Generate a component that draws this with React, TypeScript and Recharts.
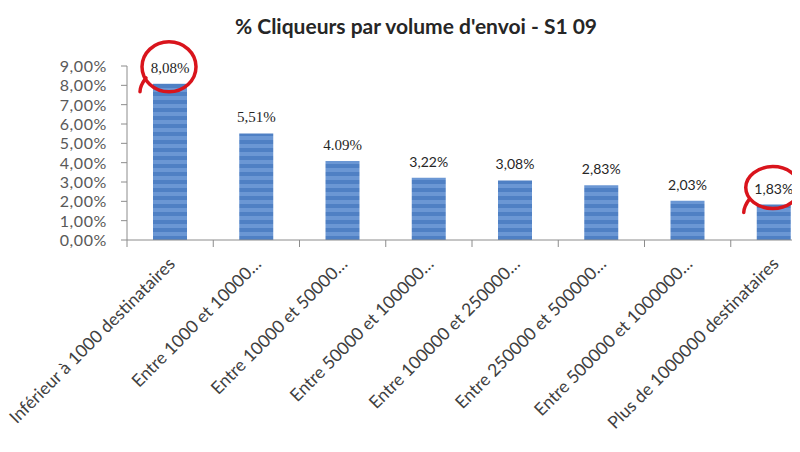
import { Bar, BarChart, LabelList, XAxis, YAxis } from 'recharts'

const categories = [
  'Inférieur à 1000 destinataires',
  'Entre 1000 et 10000…',
  'Entre 10000 et 50000…',
  'Entre 50000 et 100000…',
  'Entre 100000 et 250000…',
  'Entre 250000 et 500000…',
  'Entre 500000 et 1000000…',
  'Plus de 1000000 destinataires',
]
const clickRates = [8.08, 5.51, 4.09, 3.22, 3.08, 2.83, 2.03, 1.83]
const valueLabels = ['8,08%', '5,51%', '4.09%', '3,22%', '3,08%', '2,83%', '2,03%', '1,83%']
const circled = [true, false, false, false, false, false, false, true]
const yTicks = [0, 1, 2, 3, 4, 5, 6, 7, 8, 9]

const data = categories.map((name, i) => ({ name, rate: clickRates[i], label: valueLabels[i] }))

const CHART_W = 830
const LEFT = 127
const RIGHT = 13
const band = (CHART_W - LEFT - RIGHT) / categories.length

const fmtPct = (v: number) => `${v.toFixed(2).replace('.', ',')}%`

function XTick(props: any) {
  const { x, y, payload } = props
  const bx = x - band / 2
  return (
    <g>
      <line x1={bx} x2={bx} y1={y - 8} y2={y - 1} stroke="#8c8c8c" />
      <text
        x={x + 6}
        y={y + 17}
        textAnchor="end"
        fontSize={17.5}
        fill="#404040"
        fontFamily="Lato, sans-serif"
        transform={`rotate(-45 ${x + 6} ${y + 17})`}
      >
        {payload.value}
      </text>
    </g>
  )
}

function YTick(props: any) {
  const { x, y, payload } = props
  return (
    <text
      x={x}
      y={y + 6}
      textAnchor="end"
      fontSize={16}
      letterSpacing={0.6}
      fill="#595959"
      fontFamily="Lato, sans-serif"
    >
      {fmtPct(payload.value)}
    </text>
  )
}

function ValueLabel(props: any) {
  const { x, y, width, index } = props
  const cx = x + width / 2
  const cy = y - 16
  const serif = index < 3
  return (
    <g>
      <text
        x={cx}
        y={y - 11}
        textAnchor="middle"
        fontSize={serif ? 15 : 14}
        fill="#262626"
        fontFamily={serif ? '"Liberation Serif", serif' : 'Lato, sans-serif'}
      >
        {valueLabels[index]}
      </text>
      {circled[index] && (
        <g fill="none" stroke="#d9141c" strokeWidth={3.5} strokeLinecap="round">
          <ellipse cx={cx - 1} cy={cy - 1} rx={27} ry={index === 0 ? 25 : 21} />
          <path d={`M ${cx - 24} ${cy + 10} Q ${cx - 30} ${cy + 18}, ${cx - 30} ${cy + 24}`} />
        </g>
      )}
    </g>
  )
}

export default function App() {
  return (
    <div style={{ position: 'relative', width: 800, height: 452, margin: -8, overflow: 'hidden', background: '#fff' }}>
      <div
        style={{
          position: 'absolute',
          left: 0,
          width: 832,
          top: 13,
          textAlign: 'center',
          fontFamily: 'Lato, sans-serif',
          fontWeight: 700,
          fontSize: 21,
          color: '#262626',
        }}
      >
        % Cliqueurs par volume d'envoi - S1 09
      </div>
      <BarChart
        width={CHART_W}
        height={452}
        data={data}
        margin={{ top: 66, right: RIGHT, left: 0, bottom: 0 }}
        barCategoryGap={0}
      >
        <defs>
          <pattern id="stripes" patternUnits="userSpaceOnUse" width={6} height={8}>
            <rect width={6} height={8} fill="#4f80c4" />
            <rect width={6} height={4} fill="#6b97d4" />
          </pattern>
        </defs>
        <XAxis
          dataKey="name"
          height={212}
          interval={0}
          axisLine={{ stroke: '#8c8c8c' }}
          tickLine={false}
          tick={<XTick />}
        />
        <YAxis
          width={LEFT}
          domain={[0, 9]}
          ticks={yTicks}
          interval={0}
          axisLine={{ stroke: '#8c8c8c' }}
          tickLine={{ stroke: '#8c8c8c' }}
          tickSize={6}
          tickMargin={14}
          tick={<YTick />}
        />
        <Bar dataKey="rate" fill="url(#stripes)" barSize={34} isAnimationActive={false}>
          <LabelList dataKey="label" content={<ValueLabel />} />
        </Bar>
      </BarChart>
    </div>
  )
}
